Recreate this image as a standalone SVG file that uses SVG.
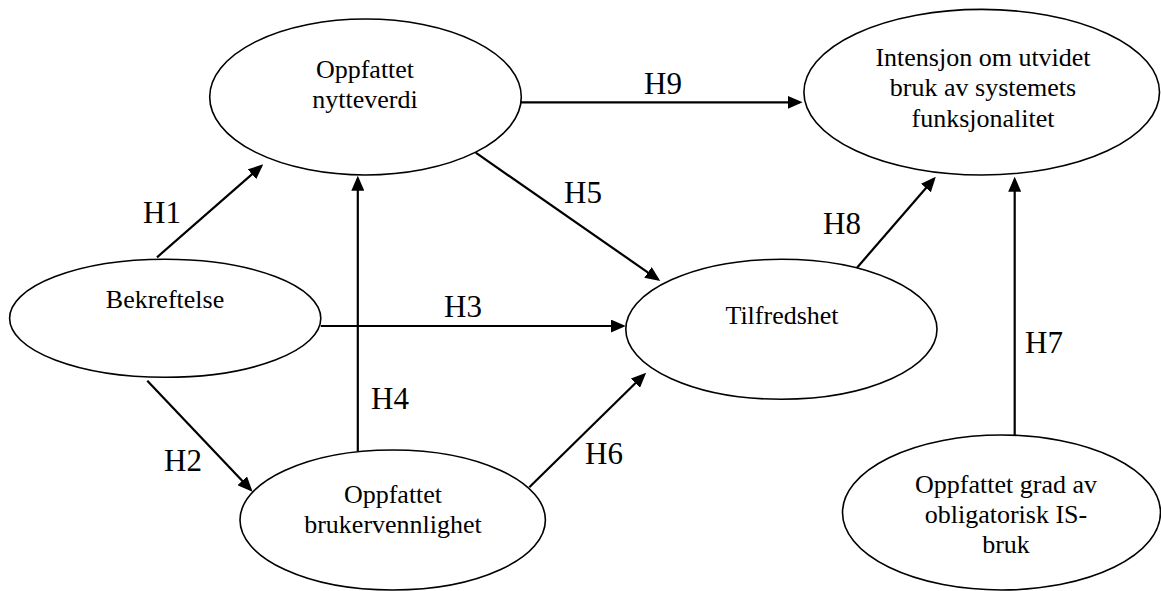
<svg xmlns="http://www.w3.org/2000/svg" width="1161" height="591" viewBox="0 0 1161 591">
  <style>
    .node ellipse { fill: #ffffff; stroke: #000000; stroke-width: 1.6; }
    .node text { font-family: "Liberation Serif", "Times New Roman", serif; font-size: 26px; fill: #000000; text-anchor: middle; }
    .edge line { stroke: #000000; stroke-width: 2.2; fill: none; }
    .edge text { font-family: "Liberation Serif", "Times New Roman", serif; font-size: 31px; fill: #000000; }
  </style>
  <defs>
    <marker id="arrow" markerUnits="userSpaceOnUse" markerWidth="15" markerHeight="13" refX="12" refY="6.5" orient="auto">
      <path d="M0,0 L15,6.5 L0,13 z" fill="#000000"/>
    </marker>
  </defs>
  <rect width="1161" height="591" fill="#ffffff"/>

  <!-- hypothesis paths -->
  <g id="connectors" class="edge">
    <line x1="157" y1="257.3" x2="261" y2="166.3" marker-end="url(#arrow)"/>
    <text x="143" y="223">H1</text>
    <line x1="147.3" y1="380.7" x2="250.5" y2="489.5" marker-end="url(#arrow)"/>
    <text x="164" y="471">H2</text>
    <line x1="320.7" y1="326" x2="622.8" y2="326" marker-end="url(#arrow)"/>
    <text x="444" y="316.7">H3</text>
    <line x1="357.8" y1="451.3" x2="357.8" y2="178.7" marker-end="url(#arrow)"/>
    <text x="371" y="409.3">H4</text>
    <line x1="475.7" y1="152.7" x2="657.8" y2="279.3" marker-end="url(#arrow)"/>
    <text x="564" y="202.7">H5</text>
    <line x1="529.3" y1="487.3" x2="644" y2="374.8" marker-end="url(#arrow)"/>
    <text x="585" y="464">H6</text>
    <line x1="1014.7" y1="436.7" x2="1014.7" y2="179.7" marker-end="url(#arrow)"/>
    <text x="1025" y="352.7">H7</text>
    <line x1="857" y1="267.7" x2="933.8" y2="179" marker-end="url(#arrow)"/>
    <text x="823" y="234">H8</text>
    <line x1="521" y1="102.3" x2="799.6" y2="102.3" marker-end="url(#arrow)"/>
    <text x="644" y="94">H9</text>
  </g>

  <g id="nytteverdi" class="node">
    <ellipse cx="365.5" cy="97" rx="155.8" ry="78"/>
    <text x="365" y="78.3">Oppfattet</text>
    <text x="365" y="108.3">nytteverdi</text>
  </g>

  <g id="intensjon" class="node">
    <ellipse cx="981.7" cy="92.2" rx="177.8" ry="82.8"/>
    <text x="983" y="65.7">Intensjon om utvidet</text>
    <text x="983" y="95.7">bruk av systemets</text>
    <text x="983" y="126.7">funksjonalitet</text>
  </g>

  <g id="bekreftelse" class="node">
    <ellipse cx="165.2" cy="318.3" rx="155.6" ry="59"/>
    <text x="165" y="308.3">Bekreftelse</text>
  </g>

  <g id="tilfredshet" class="node">
    <ellipse cx="781.4" cy="329.3" rx="155.6" ry="70"/>
    <text x="782" y="324.3">Tilfredshet</text>
  </g>

  <g id="brukervennlighet" class="node">
    <ellipse cx="392.7" cy="520" rx="152.7" ry="70"/>
    <text x="393" y="503.3">Oppfattet</text>
    <text x="393" y="533.3">brukervennlighet</text>
  </g>

  <g id="obligatorisk" class="node">
    <ellipse cx="1001.5" cy="512.5" rx="159" ry="77.5"/>
    <text x="1006" y="492.7">Oppfattet grad av</text>
    <text x="1006" y="522.7">obligatorisk IS-</text>
    <text x="1006" y="552.7">bruk</text>
  </g>
</svg>
